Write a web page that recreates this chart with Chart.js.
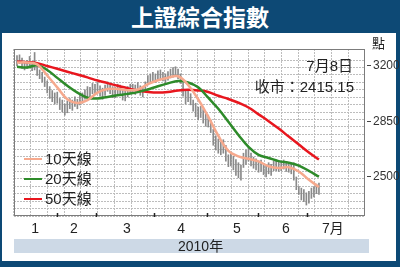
<!DOCTYPE html>
<html>
<head>
<meta charset="utf-8">
<script src="https://cdn.jsdelivr.net/npm/chart.js@4.4.1/dist/chart.umd.min.js"></script>
<style>
  body { margin: 0; width: 400px; height: 267px; background: #0d4975; position: relative; overflow: hidden;
         font-family: "Liberation Sans", "Noto Sans CJK TC", sans-serif; }
  #title { position: absolute; left: 0; top: 0; width: 400px; height: 33px; line-height: 33px; text-align: center;
           color: #fff; font-size: 23px; font-weight: 700; font-family: "Noto Sans CJK TC", sans-serif; }
  #panel { position: absolute; left: 2px; top: 33px; width: 394px; height: 228px; background: #fff; }
  #chart { position: absolute; left: 0; top: 0; }
  .txt { position: absolute; color: #222; white-space: nowrap; }
  #unit { left: 372px; top: 36px; font-size: 13px; line-height: 16px; }
  #date { right: 47px; top: 57px; font-size: 15px; line-height: 18px; }
  #close { right: 46px; top: 78px; font-size: 15px; line-height: 18px; }
  #yearband { position: absolute; left: 14px; top: 239px; width: 355px; height: 14px; background: #cdd9e6; }
  #year { left: 178px; top: 238px; font-size: 14px; line-height: 16px; }
</style>
</head>
<body>
<div id="title">上證綜合指數</div>
<div id="panel"></div>
<div id="yearband"></div>
<canvas id="chart" width="400" height="267"></canvas>
<div class="txt" id="unit">點</div>
<div class="txt" id="date">7月8日</div>
<div class="txt" id="close">收市：2415.15</div>
<div class="txt" id="year">2010年</div>
<script>
// daily high / low bars (trading day index 0..120)
var barLows = [3200, 3215, 3185, 3175, 3185, 3195, 3170, 3175, 3140, 3120,
  3100, 3070, 3030, 2995, 2975, 2960, 2965, 2925, 2910, 2890,
  2905, 2930, 2920, 2945, 2930, 2955, 2965, 2990, 3005, 3000,
  3025, 3020, 3035, 3010, 2990, 3015, 3040, 3025, 3000, 3000,
  3020, 3015, 2985, 2980, 3005, 3025, 3030, 3020, 3035, 3015,
  3005, 3040, 3080, 3090, 3100, 3095, 3110, 3120, 3105, 3090,
  3110, 3125, 3130, 3140, 3120, 3090, 3010, 2960, 2975, 2955,
  2915, 2880, 2860, 2875, 2840, 2820, 2815, 2780, 2700, 2670,
  2650, 2640, 2650, 2600, 2565, 2570, 2545, 2510, 2495, 2480,
  2560, 2580, 2600, 2570, 2555, 2545, 2530, 2535, 2515, 2500,
  2520, 2510, 2540, 2540, 2535, 2540, 2550, 2535, 2530, 2520,
  2480, 2420, 2390, 2355, 2345, 2323, 2335, 2365, 2375, 2395, 2390];
var barHighs = [3265, 3270, 3250, 3225, 3235, 3260, 3230, 3285, 3215, 3175,
  3160, 3130, 3105, 3070, 3045, 3030, 3035, 2995, 2985, 2960,
  2980, 2995, 2985, 3005, 2990, 3015, 3030, 3050, 3070, 3065,
  3090, 3085, 3095, 3075, 3060, 3080, 3100, 3090, 3070, 3065,
  3085, 3080, 3050, 3045, 3070, 3085, 3085, 3080, 3095, 3075,
  3065, 3100, 3140, 3150, 3160, 3150, 3170, 3175, 3160, 3150,
  3165, 3180, 3190, 3195, 3180, 3150, 3090, 3040, 3045, 3025,
  2985, 2965, 2940, 2945, 2925, 2900, 2890, 2860, 2800, 2760,
  2740, 2720, 2735, 2700, 2640, 2650, 2630, 2610, 2590, 2575,
  2650, 2670, 2683, 2650, 2625, 2615, 2600, 2607, 2585, 2575,
  2590, 2580, 2600, 2607, 2595, 2600, 2607, 2595, 2590, 2580,
  2590, 2500, 2440, 2430, 2420, 2400, 2410, 2430, 2440, 2455, 2462];

// moving averages, one value every 4 trading days
var maStep = 4;
var ma10 = [3222, 3222, 3210, 3140, 3065, 2990, 2967, 2985, 3032, 3055, 3055, 3047, 3052, 3085, 3110, 3126,
  3135, 3080, 2990, 2880, 2760, 2665, 2630, 2615, 2598, 2568, 2557, 2562, 2535, 2482, 2437];
var ma20 = [3195, 3190, 3205, 3175, 3125, 3075, 3032, 3000, 2995, 3005, 3015, 3024, 3035, 3052, 3072, 3090,
  3105, 3096, 3066, 3000, 2930, 2848, 2765, 2690, 2640, 2620, 2600, 2590, 2572, 2538, 2502];
var ma50 = [3227, 3224, 3218, 3200, 3182, 3164, 3146, 3128, 3108, 3092, 3075, 3060, 3045, 3036, 3032, 3036,
  3046, 3050, 3046, 3036, 3012, 2992, 2968, 2938, 2895, 2852, 2805, 2755, 2705, 2655, 2610];

var yTicks = [3200, 2850, 2500];
var monthLabels = ['1', '2', '3', '4', '5', '6', '7月'];
var monthLabelPos = [7.2, 22.6, 43.7, 65.2, 87.4, 106.9, 125.5];
var monthStarts = [15.9, 31.4, 54.4, 75.5, 95.7, 115.2];

function maPoints(arr) {
  return arr.map(function (v, i) { return { x: i * maStep, y: v }; });
}

var extras = {
  id: 'extras',
  beforeDatasetsDraw: function (chart) {
    var a = chart.chartArea, ctx = chart.ctx, xs = chart.scales.x;
    ctx.save();
    ctx.strokeStyle = '#7c7c7c';
    ctx.lineWidth = 1;
    ctx.strokeRect(a.left + 0.5, a.top + 0.5, a.right - a.left - 1, a.bottom - a.top - 1);
    ctx.strokeStyle = '#222';
    ctx.lineWidth = 1.5;
    monthStarts.forEach(function (m) {
      var px = Math.round(xs.getPixelForValue(m)) + 0.5;
      ctx.beginPath();
      ctx.moveTo(px, a.bottom - 3);
      ctx.lineTo(px, a.bottom + 1);
      ctx.stroke();
    });
    ctx.restore();
  },
  afterDraw: function (chart) {
    var ctx = chart.ctx;
    ctx.save();
    ctx.font = '15px "Liberation Sans", "Noto Sans CJK TC", sans-serif';
    ctx.textBaseline = 'middle';
    var y = 159;
    chart.data.datasets.forEach(function (ds) {
      if (ds.type !== 'line') return;
      ctx.strokeStyle = ds.borderColor;
      ctx.lineWidth = 2;
      ctx.beginPath();
      ctx.moveTo(24, y);
      ctx.lineTo(42, y);
      ctx.stroke();
      ctx.fillStyle = '#222';
      ctx.fillText(ds.label, 45, y + 1);
      y += 20;
    });
    ctx.restore();
  }
};

var chart = new Chart(document.getElementById('chart'), {
  type: 'bar',
  data: {
    datasets: [
      { type: 'line', label: '10天線', data: maPoints(ma10), borderColor: '#f6a98d', borderWidth: 2.5,
        pointRadius: 0, tension: 0.4, order: 1 },
      { type: 'line', label: '20天線', data: maPoints(ma20), borderColor: '#2e8b2a', borderWidth: 2.5,
        pointRadius: 0, tension: 0.4, order: 2 },
      { type: 'line', label: '50天線', data: maPoints(ma50), borderColor: '#e8161e', borderWidth: 2.5,
        pointRadius: 0, tension: 0.4, order: 3 },
      { type: 'bar', label: 'range', data: barLows.map(function (lo, i) { return { x: i, y: [lo, barHighs[i]] }; }),
        backgroundColor: '#8a8a8a', barThickness: 1, order: 4 }
    ]
  },
  options: {
    responsive: false,
    animation: false,
    devicePixelRatio: 1,
    layout: { padding: { left: 14, top: 49, right: 0, bottom: 0 } },
    plugins: { legend: { display: false }, tooltip: { enabled: false } },
    scales: {
      x: {
        type: 'linear', min: -1.19, max: 138.3, offset: false,
        grid: { display: false, drawTicks: false, offset: false },
        border: { display: false },
        afterBuildTicks: function (s) { s.ticks = monthLabelPos.map(function (v) { return { value: v }; }); },
        afterFit: function (s) { s.height = 51; },
        ticks: {
          autoSkip: false, maxRotation: 0, padding: 5, color: '#222',
          font: { size: 14, family: '"Liberation Sans", "Noto Sans CJK TC", sans-serif' },
          callback: function (v, i) { return monthLabels[i]; }
        }
      },
      y: {
        position: 'right', min: 2254, max: 3307, beginAtZero: false,
        grid: { drawOnChartArea: false, tickLength: 7, tickColor: '#444', tickBorderDash: [0, 2, 4, 20] },
        border: { display: false },
        afterBuildTicks: function (s) { s.ticks = yTicks.map(function (v) { return { value: v }; }); },
        afterFit: function (s) { s.width = 35; },
        ticks: {
          padding: 1, color: '#333',
          font: { size: 12, family: '"Liberation Sans Narrow", "Liberation Sans", sans-serif' },
          callback: function (v) { return String(v); }
        }
      },
      gx: {
        type: 'linear', position: 'top', min: 0, max: 20,
        ticks: { display: false, stepSize: 1 },
        grid: { color: '#bdbdbd', drawTicks: false },
        border: { display: false, dash: [2, 1] },
        afterFit: function (s) { s.height = 0; }
      },
      gy: {
        type: 'linear', position: 'left', min: 0, max: 22.5,
        ticks: { display: false, stepSize: 1 },
        grid: { color: '#bdbdbd', drawTicks: false },
        border: { display: false, dash: [2, 1] },
        afterFit: function (s) { s.width = 0; }
      }
    }
  },
  plugins: [extras]
});
</script>
</body>
</html>
